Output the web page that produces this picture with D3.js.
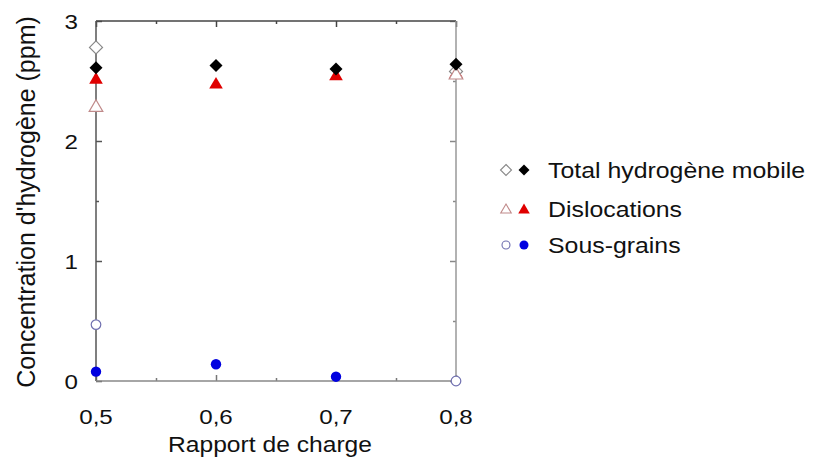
<!DOCTYPE html>
<html><head><meta charset="utf-8">
<script src="https://cdn.jsdelivr.net/npm/d3@7"></script>
<style>body{margin:0;background:#fff}svg{display:block}text{font-family:"Liberation Sans",Arial,sans-serif;fill:#111}</style>
</head><body>
<script>
const ratios = [0.5, 0.6, 0.7, 0.8];
const totalMobile = [2.61, 2.63, 2.60, 2.64];
const dislocations = [2.52, 2.48, 2.55, 2.57];
const sousGrains = [0.078, 0.14, 0.036, null];
const openRatios = [0.5, 0.8];
const totalOpen = [2.78, 2.58];
const dislocOpen = [2.29, 2.56];
const sousOpen = [0.47, 0.0];
const xTicks = [0.5, 0.6, 0.7, 0.8];
const xTickLabels = ["0,5", "0,6", "0,7", "0,8"];
const yTicks = [0, 1, 2, 3];
const legendLabels = ["Total hydrogène mobile", "Dislocations", "Sous-grains"];

const W = 825, H = 459;
const svg = d3.select("body").append("svg").attr("width", W).attr("height", H);
const x = d3.scaleLinear().domain([0.5, 0.8]).range([96, 456]);
const y = d3.scaleLinear().domain([0, 3]).range([381, 21]);

const g = svg.append("g");
const minorX = [0.55, 0.65, 0.75], minorY = [0.5, 1.5, 2.5];
function put(ax, tr, col){
  const a = g.append("g").attr("transform", tr).call(ax);
  a.selectAll("line").attr("stroke", col).attr("stroke-width", 1.5);
  a.select(".domain").remove();
}
put(d3.axisBottom(x).tickValues(minorX).tickSize(-3).tickFormat(""), "translate(0,381)", "#777");
put(d3.axisBottom(x).tickValues(xTicks).tickSize(-6).tickFormat(""), "translate(0,381)", "#777");
put(d3.axisTop(x).tickValues(minorX).tickSize(-3).tickFormat(""), "translate(0,21)", "#444");
put(d3.axisTop(x).tickValues(xTicks).tickSize(-6).tickFormat(""), "translate(0,21)", "#444");
put(d3.axisLeft(y).tickValues(minorY).tickSize(-3).tickFormat(""), "translate(96,0)", "#555");
put(d3.axisLeft(y).tickValues(yTicks).tickSize(-6).tickFormat(""), "translate(96,0)", "#555");
put(d3.axisRight(y).tickValues(minorY).tickSize(-3).tickFormat(""), "translate(456,0)", "#888");
put(d3.axisRight(y).tickValues(yTicks).tickSize(-6).tickFormat(""), "translate(456,0)", "#888");
g.append("line").attr("x1",96).attr("x2",456).attr("y1",21).attr("y2",21).attr("stroke","#444").attr("stroke-width",1.5);
g.append("line").attr("x1",96).attr("x2",96).attr("y1",21).attr("y2",381).attr("stroke","#555").attr("stroke-width",1.5);
g.append("line").attr("x1",456).attr("x2",456).attr("y1",21).attr("y2",381).attr("stroke","#999").attr("stroke-width",1.5);
g.append("line").attr("x1",96).attr("x2",456).attr("y1",381).attr("y2",381).attr("stroke","#888").attr("stroke-width",1.5);

svg.selectAll(".xl").data(xTicks).enter().append("text")
  .attr("transform", d => `translate(${x(d)},424) scale(1.15,1)`)
  .attr("text-anchor","middle").attr("font-size",21).text((d,i)=>xTickLabels[i]);
svg.selectAll(".yl").data(yTicks).enter().append("text")
  .attr("transform", d => `translate(78,${y(d)+7.5}) scale(1.15,1)`)
  .attr("text-anchor","end").attr("font-size",21).text(d=>d);
svg.append("text").attr("transform","translate(270,452) scale(1.12,1)").attr("text-anchor","middle").attr("font-size",22).text("Rapport de charge");
svg.append("text").attr("transform","translate(35,202) rotate(-90)").attr("text-anchor","middle").attr("font-size",25).text("Concentration d'hydrogène (ppm)");

function diamondPath(r){ return `M0,${-r}L${r},0L0,${r}L${-r},0Z`; }
function triPath(r){ return `M0,${-r}L${r*1.05},${r*0.8}L${-r*1.05},${r*0.8}Z`; }
function circPath(r){ return d3.arc()({innerRadius:0,outerRadius:r,startAngle:0,endAngle:2*Math.PI}); }

const pts = svg.append("g");
pts.selectAll(".ft").data(ratios).enter().append("path")
  .attr("transform",(d,i)=>`translate(${x(d)},${y(dislocations[i])})`).attr("d",triPath(6.5))
  .attr("fill","#e00000");
pts.selectAll(".od").data(openRatios).enter().append("path")
  .attr("transform",(d,i)=>`translate(${x(d)},${y(totalOpen[i])})`).attr("d",diamondPath(6.5))
  .attr("fill","#fff").attr("stroke","#888").attr("stroke-width",1.2);
pts.selectAll(".ot").data(openRatios).enter().append("path")
  .attr("transform",(d,i)=>`translate(${x(d)},${y(dislocOpen[i])})`).attr("d",triPath(6.5))
  .attr("fill","#fff").attr("stroke","#c08a8a").attr("stroke-width",1.2);
pts.selectAll(".oc").data(openRatios).enter().append("path")
  .attr("transform",(d,i)=>`translate(${x(d)},${y(sousOpen[i])})`).attr("d",circPath(4.8))
  .attr("fill","#fff").attr("stroke","#7070b0").attr("stroke-width",1.2);
pts.selectAll(".fd").data(ratios).enter().append("path")
  .attr("transform",(d,i)=>`translate(${x(d)},${y(totalMobile[i])})`).attr("d",diamondPath(6.5))
  .attr("fill","#000");
pts.selectAll(".fc").data(ratios.map((d,i)=>[d,sousGrains[i]]).filter(p=>p[1]!==null)).enter().append("path")
  .attr("transform",p=>`translate(${x(p[0])},${y(p[1])})`).attr("d",circPath(5.2))
  .attr("fill","#0000e0");

const rows = [170, 209, 245];
const leg = svg.append("g");
const openStyles = [["#888", diamondPath(5.5)], ["#c08a8a", triPath(5)], ["#7070b0", circPath(4)]];
const fillStyles = [["#000", diamondPath(5.5)], ["#e00000", triPath(5.5)], ["#0000e0", circPath(4.5)]];
leg.selectAll(".lo").data(legendLabels).enter().append("path")
  .attr("transform",(d,i)=>`translate(506,${rows[i]})`).attr("d",(d,i)=>openStyles[i][1])
  .attr("fill","#fff").attr("stroke",(d,i)=>openStyles[i][0]).attr("stroke-width",1.1);
leg.selectAll(".lf").data(legendLabels).enter().append("path")
  .attr("transform",(d,i)=>`translate(524,${rows[i]})`).attr("d",(d,i)=>fillStyles[i][1])
  .attr("fill",(d,i)=>fillStyles[i][0]);
leg.selectAll(".lt").data(legendLabels).enter().append("text")
  .attr("transform",(d,i)=>`translate(548,${rows[i]+8}) scale(1.13,1)`)
  .attr("font-size",22).text(d=>d);
</script>
</body></html>
